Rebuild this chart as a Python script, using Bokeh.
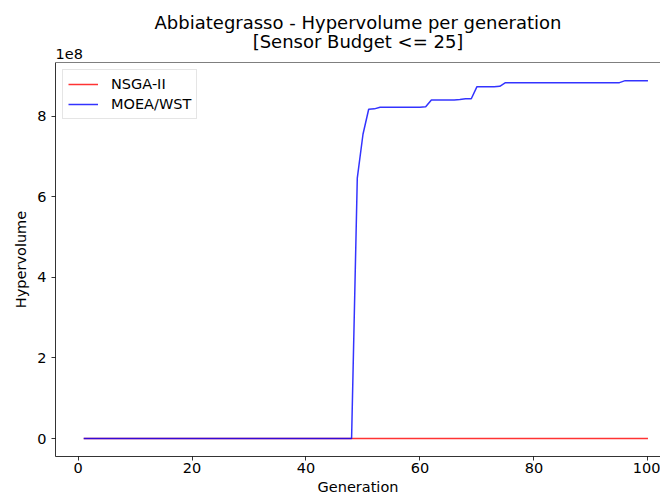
from bokeh.plotting import figure
from bokeh.models import (Range1d, Title, Span, FixedTicker,
                          CustomJSTickFormatter, Legend, LegendItem)
from bokeh.embed import file_html
from bokeh.resources import INLINE

generations = list(range(1, 101))
nsga2 = [0.0] * 100
moea_wst = [0.0] * 48 + [
    6.46e8, 7.55e8, 8.17e8, 8.18e8, 8.22e8, 8.22e8, 8.22e8, 8.22e8, 8.22e8,
    8.22e8, 8.22e8, 8.22e8, 8.23e8, 8.40e8, 8.40e8, 8.40e8, 8.40e8, 8.40e8,
    8.41e8, 8.43e8, 8.43e8, 8.73e8, 8.73e8, 8.73e8, 8.73e8, 8.74e8, 8.83e8,
] + [8.83e8] * 20 + [8.88e8] * 5
x_ticks = [0, 20, 40, 60, 80, 100]
y_ticks = [0, 2e8, 4e8, 6e8, 8e8]

FONT = "DejaVu Sans"
LBL = "14.5px"
TTL = "18px"
Y_TOP = 9.33e8

p = figure(width=660, height=499, output_backend="svg", toolbar_location=None,
           x_range=Range1d(-3.95, 102.2), y_range=Range1d(-0.444e8, Y_TOP),
           min_border_left=55, min_border_right=0, min_border_top=62,
           min_border_bottom=43)
p.outline_line_color = None
p.xgrid.visible = False
p.ygrid.visible = False
p.background_fill_color = "white"
p.border_fill_color = "white"

r1 = p.line(generations, nsga2, line_color="red", line_alpha=0.8, line_width=1.5)
r2 = p.line(generations, moea_wst, line_color="blue", line_alpha=0.8, line_width=1.5)

for ax in (p.xaxis[0], p.yaxis[0]):
    ax.axis_line_width = 0.8
    ax.major_tick_line_width = 0.8
    ax.major_tick_in = 0
    ax.major_tick_out = 4
    ax.minor_tick_line_color = None
    ax.major_label_text_font = FONT
    ax.major_label_text_font_size = LBL
    ax.major_label_text_color = "black"
    ax.axis_label_text_font = FONT
    ax.axis_label_text_font_size = LBL
    ax.axis_label_text_font_style = "normal"
    ax.axis_label_text_color = "black"

p.xaxis[0].ticker = FixedTicker(ticks=x_ticks)
p.yaxis[0].ticker = FixedTicker(ticks=y_ticks)
p.yaxis[0].formatter = CustomJSTickFormatter(code="return (tick/1e8).toFixed(0)")
p.xaxis[0].axis_label = "Generation"
p.yaxis[0].axis_label = "Hypervolume"
p.xaxis[0].major_label_standoff = 2
p.xaxis[0].axis_label_standoff = 3
p.yaxis[0].major_label_standoff = 5
p.yaxis[0].axis_label_standoff = 5

p.add_layout(Span(location=Y_TOP, dimension="width", line_color="black",
                  line_width=1.2))

p.title.text = "Abbiategrasso - Hypervolume per generation"
p.title.align = "center"
p.title.text_font = FONT
p.title.text_font_size = TTL
p.title.text_font_style = "normal"
p.title.text_color = "black"
p.title.standoff = 7

p.add_layout(Title(text="1e8", align="left",
                   text_font=FONT, text_font_size=LBL, text_color="black",
                   text_font_style="normal", standoff=7), "above")
p.add_layout(Title(text="[Sensor Budget <= 25]", align="center",
                   text_font=FONT, text_font_size=TTL, text_color="black",
                   text_font_style="normal", standoff=-16), "above")

legend = Legend(items=[LegendItem(label="NSGA-II", renderers=[r1]),
                       LegendItem(label="MOEA/WST", renderers=[r2])],
                location="top_left")
legend.label_text_font = FONT
legend.label_text_font_size = LBL
legend.label_text_color = "black"
legend.border_line_color = "#cccccc"
legend.border_line_width = 1
legend.background_fill_alpha = 0.8
legend.margin = 7
legend.padding = 5
legend.spacing = 2
legend.glyph_width = 30
legend.glyph_height = 18
legend.label_standoff = 13
p.add_layout(legend)

open("out.html", "w").write(file_html(p, INLINE))
